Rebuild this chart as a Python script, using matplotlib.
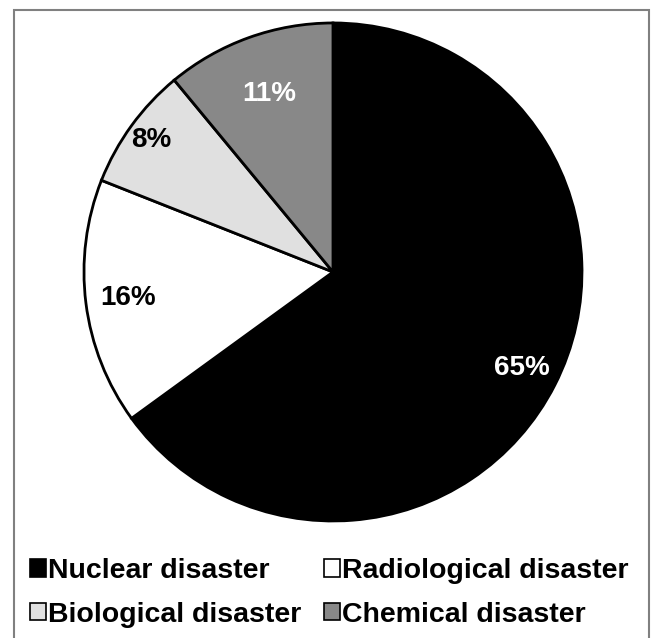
import matplotlib.pyplot as plt
import matplotlib.patches as mpatches
import numpy as np

categories = ["Nuclear disaster", "Radiological disaster",
              "Biological disaster", "Chemical disaster"]
shares = [65, 16, 8, 11]
colors = ["#000000", "#ffffff", "#e0e0e0", "#888888"]
label_colors = ["white", "black", "black", "white"]
label_dist = [0.85, 0.83, 0.90, 0.76]

plt.rcParams['font.family'] = ['Liberation Sans', 'DejaVu Sans']

fig = plt.figure(figsize=(6.51, 6.38), dpi=100)
ax = fig.add_axes([0.1290, 0.1834, 0.765, 0.7806])

wedges, _ = ax.pie(shares, colors=colors, startangle=90, counterclock=False,
                   radius=1.0, wedgeprops={'edgecolor': 'black', 'linewidth': 2})
ax.set_xlim(-1, 1)
ax.set_ylim(-1, 1)
ax.set_aspect('equal')
ax.axis('off')

# percentage labels placed along each wedge's mid angle
for w, val, c, d in zip(wedges, shares, label_colors, label_dist):
    mid = np.deg2rad((w.theta1 + w.theta2) / 2)
    ax.text(d * np.cos(mid), d * np.sin(mid), f"{val}%", ha='center', va='center',
            fontsize=20, fontweight='bold', color=c)

handles = [mpatches.Rectangle((0, 0), 1, 1, facecolor=c, edgecolor='black', linewidth=1.2)
           for c in colors]
# two columns: Nuclear/Biological on the left, Radiological/Chemical on the right
order = [0, 2, 1, 3]
fig.legend([handles[i] for i in order], [categories[i] for i in order],
           ncol=2, loc='upper left', bbox_to_anchor=(30 / 651, 1 - 558 / 638),
           frameon=False, borderpad=0, borderaxespad=0,
           handlelength=0.55, handleheight=0.55, handletextpad=0.08,
           columnspacing=0.8, labelspacing=0.62,
           prop={'size': 20.5, 'weight': 'bold'})

# outer frame
fig.patches.append(mpatches.Rectangle((14 / 651, -0.05), (649 - 14) / 651, 1.05 - 10 / 638,
                                      transform=fig.transFigure, fill=False,
                                      edgecolor='#808080', linewidth=1.5))

fig.savefig("out.png", dpi=100)
